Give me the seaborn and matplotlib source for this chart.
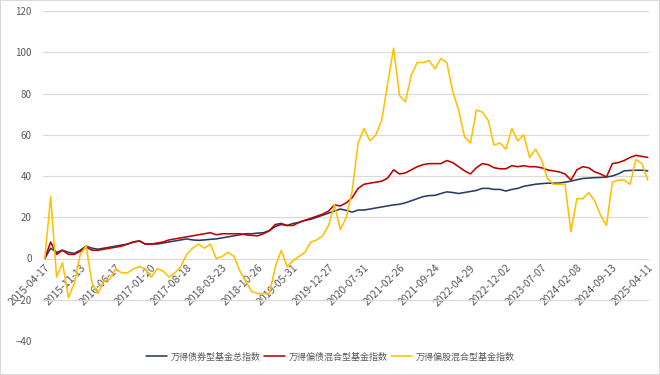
import matplotlib
matplotlib.use("Agg")
import matplotlib.pyplot as plt
import numpy as np
import pandas as pd
import seaborn as sns

# category axis: weekly points, one label every 30 weeks
tick_labels = [
    "2015-04-17", "2015-11-13", "2016-06-17", "2017-01-20", "2017-08-18",
    "2018-03-23", "2018-10-26", "2019-05-31", "2019-12-27", "2020-07-31",
    "2021-02-26", "2021-09-24", "2022-04-29", "2022-12-02", "2023-07-07",
    "2024-02-08", "2024-09-13", "2025-04-11",
]
label_every = 30
sample_every = 5  # values below are read every 5th week

bond_total = [
    0, 5, 3, 4, 3, 2.5, 4, 6, 5, 4.5, 5, 5.5, 6, 6.5, 7, 8, 8.5, 7, 7, 7,
    7.5, 8, 8.5, 9, 9.5, 9, 8.8, 9, 9.3, 9.5, 10, 10.5, 11, 11.5, 12, 12, 12.3, 12.5, 13.5, 15.5,
    16.5, 16, 17, 17.5, 18.5, 19, 20, 21, 22, 23, 24, 23.3, 22.5, 23.5, 23.5, 24, 24.5, 25, 25.5, 26,
    26.3, 27, 28, 29, 30, 30.5, 30.6, 31.5, 32.3, 32, 31.5, 32, 32.5, 33, 34, 34, 33.5, 33.5, 32.7, 33.5,
    34, 35, 35.5, 36, 36.3, 36.5, 36.5, 36.6, 37, 37.5, 38.2, 38.8, 39, 39.2, 39.3, 39.5, 40, 41, 42.5, 42.7,
    42.8, 42.8, 42.5,
]
bond_mixed = [
    0, 8, 2, 4, 2, 2, 3.5, 5.5, 4, 4, 4.5, 5, 5.5, 6, 7, 8, 8.5, 7, 7, 7.5,
    8, 9, 9.5, 10, 10.5, 11, 11.5, 12, 12.5, 11.5, 12, 12, 12, 12, 11.5, 11.2, 11, 12, 13.5, 16.5,
    17, 16, 16, 17.5, 18.5, 19.5, 20.5, 21.5, 23, 26, 25.5, 27, 29.5, 34, 36, 36.5, 37, 37.5, 39, 43,
    41, 41.5, 43, 44.5, 45.5, 46, 46, 46, 47.5, 46.5, 44.5, 42.5, 41, 44, 46, 45.5, 44, 43.5, 43.5, 45,
    44.5, 45, 44.5, 44.5, 44, 43, 42.5, 42, 41, 38, 43, 44.5, 44, 42, 41, 39.5, 46, 46.5, 47.5, 49,
    50, 49.5, 49,
]
equity_mixed = [
    0, 30, -9, -2, -19, -12, 2, 6, -12, -17, -11, -10, -5, -7, -7, -5, -4, -5, -9, -5,
    -6, -9, -7, -4, 2, 5, 7, 5, 7, 0, 1, 3, 1, -6, -11, -16, -17, -17, -17, -4,
    4, -4, -1, 1, 3, 8, 9, 11, 16, 26, 14, 20, 33, 56, 63, 57, 60, 67, 85, 102,
    79, 76, 89, 95, 95, 96, 92, 97, 95, 81, 72, 59, 56, 72, 71, 67, 55, 56, 53, 63,
    57, 60, 49, 53, 48, 39, 36, 36, 36, 13, 29, 29, 32, 28, 21, 16, 37, 38, 38, 36,
    48, 46, 38,
]

series_names = ["万得债券型基金总指数", "万得偏债混合型基金指数", "万得偏股混合型基金指数"]
colors = ["#263C64", "#C00000", "#FFC000"]

frames = []
for name, vals in zip(series_names, [bond_total, bond_mixed, equity_mixed]):
    frames.append(pd.DataFrame({
        "pos": np.arange(len(vals)) * sample_every,
        "value": vals,
        "series": name,
    }))
df = pd.concat(frames, ignore_index=True)

sns.set_style("white")
plt.rcParams["font.family"] = ["Noto Sans CJK SC", "DejaVu Sans"]

fig = plt.figure(figsize=(6.6, 3.75), dpi=100, edgecolor="#d9d9d9", linewidth=1.2)
ax = fig.add_axes([43 / 660, 1 - 341 / 375, (649 - 43) / 660, 330 / 375])

sns.lineplot(
    data=df, x="pos", y="value", hue="series", hue_order=series_names,
    palette=dict(zip(series_names, colors)), linewidth=1.15, ax=ax,
)

ax.set_ylim(-40, 120)
ax.set_xlim(-1.5, 510 + 1)
ax.set_yticks(range(-40, 121, 20))
ax.yaxis.grid(True, color="#d9d9d9", linewidth=0.8)
ax.xaxis.grid(False)
ax.set_axisbelow(True)
for s in ax.spines.values():
    s.set_visible(False)
ax.spines["bottom"].set_position(("data", 0))

ax.set_xticks(np.arange(len(tick_labels)) * label_every)
ax.set_xticklabels(tick_labels, rotation=45, ha="right", rotation_mode="anchor")
ax.tick_params(axis="x", length=0, pad=3, labelsize=7.5, labelcolor="#595959")
ax.tick_params(axis="y", length=0, pad=8, labelsize=7, labelcolor="#595959")
ax.set_xlabel("")
ax.set_ylabel("")

handles, labels = ax.get_legend_handles_labels()
ax.get_legend().remove()
fig.legend(
    handles, labels, loc="center", bbox_to_anchor=(0.5, 1 - 357 / 375), ncol=3,
    frameon=False, fontsize=6.5, handlelength=2.3, handletextpad=0.4,
    columnspacing=0.4, labelcolor="#595959",
)

fig.savefig("out.png", dpi=100, facecolor="white", edgecolor=fig.get_edgecolor())
